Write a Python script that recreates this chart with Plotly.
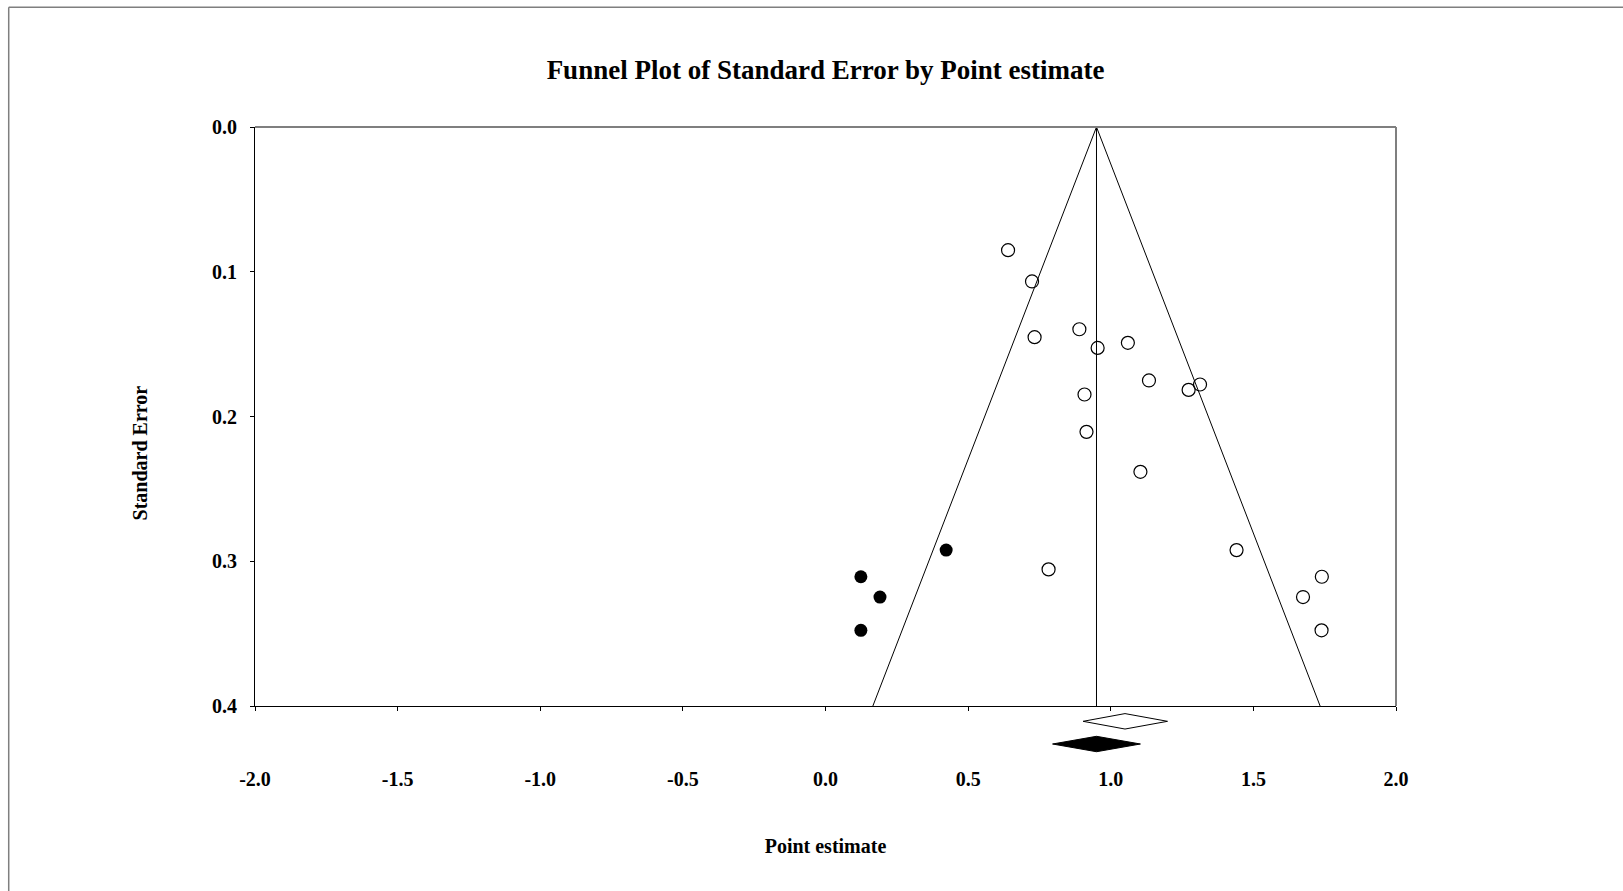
import plotly.graph_objects as go

# ---------------- data ----------------
effect_observed = [0.640, 0.724, 0.733, 0.890, 0.954, 1.060, 1.134, 1.273, 1.313,
                   0.908, 0.915, 1.104, 1.441, 0.782, 1.674, 1.740, 1.739]
se_observed = [0.0851, 0.1067, 0.1452, 0.1397, 0.1526, 0.1491, 0.1751, 0.1816, 0.1779,
               0.1848, 0.2106, 0.2382, 0.2923, 0.3056, 0.3247, 0.3107, 0.3477]
effect_imputed = [0.423, 0.124, 0.191, 0.124]
se_imputed = [0.2923, 0.3107, 0.3247, 0.3477]

observed_summary = [0.903, 1.050, 1.199]   # lower, point, upper
adjusted_summary = [0.796, 0.950, 1.104]   # lower, point, upper
summary_rows = [1, 2]                       # row of each diamond under the axis
diamond_half = 0.34

funnel_center = 0.950
se_max = 0.4
z_crit = 1.96

x_ticks = [-2.0, -1.5, -1.0, -0.5, 0.0, 0.5, 1.0, 1.5, 2.0]
y_ticks = [0.0, 0.1, 0.2, 0.3, 0.4]

# ---------------- layout geometry (pixels) ----------------
W, H = 1623, 891
left, right = 254.5, 1396.5
top, main_bottom, lower_bottom = 126.7, 706.0, 765.0
plot_h = lower_bottom - top
split = (lower_bottom - main_bottom) / plot_h
title_center = 453.0
y4_top = 2 * (lower_bottom - title_center) / plot_h

FONT = "Liberation Serif"

fig = go.Figure()

# carrier for the left axis title (added first so it sits underneath)
fig.add_trace(go.Scatter(x=[None], y=[None], mode="markers", showlegend=False,
                         hoverinfo="skip", xaxis="x", yaxis="y4"))

# funnel lines
fig.add_trace(go.Scatter(
    x=[funnel_center - z_crit * se_max, funnel_center, funnel_center + z_crit * se_max],
    y=[se_max, 0, se_max], mode="lines",
    line=dict(color="black", width=1), showlegend=False, hoverinfo="skip",
    xaxis="x", yaxis="y"))
fig.add_trace(go.Scatter(
    x=[funnel_center, funnel_center], y=[0, se_max], mode="lines",
    line=dict(color="black", width=1), showlegend=False, hoverinfo="skip",
    xaxis="x", yaxis="y"))

# observed studies
fig.add_trace(go.Scatter(
    x=effect_observed, y=se_observed, mode="markers",
    marker=dict(symbol="circle-open", size=13, color="black", line=dict(width=1.2)),
    showlegend=False, xaxis="x", yaxis="y"))
# imputed studies
fig.add_trace(go.Scatter(
    x=effect_imputed, y=se_imputed, mode="markers",
    marker=dict(symbol="circle", size=13, color="black", line=dict(width=0)),
    showlegend=False, xaxis="x", yaxis="y"))

# summary diamonds
for summ, row, fill in [(observed_summary, summary_rows[0], "white"),
                        (adjusted_summary, summary_rows[1], "black")]:
    lo, c, hi = summ
    fig.add_trace(go.Scatter(
        x=[lo, c, hi, c, lo],
        y=[row, row - diamond_half, row, row + diamond_half, row],
        mode="lines", fill="toself", fillcolor=fill,
        line=dict(color="black", width=1), showlegend=False, hoverinfo="skip",
        xaxis="x2", yaxis="y2"))

tickfont = dict(family=FONT, size=20, color="black", weight="bold")

fig.update_layout(
    width=W, height=H,
    margin=dict(l=left, r=W - right, t=top, b=H - lower_bottom, pad=0),
    paper_bgcolor="white", plot_bgcolor="rgba(0,0,0,0)",
    title=dict(text="Funnel Plot of Standard Error by Point estimate",
               font=dict(family=FONT, size=27, color="black", weight="bold"),
               x=0.5, xref="paper", xanchor="center",
               y=1 - 70 / H, yref="container", yanchor="middle"),
    xaxis=dict(domain=[0, 1], anchor="y", range=[-2, 2], tickvals=x_ticks,
               showticklabels=False, ticks="outside", ticklen=4, tickwidth=1,
               tickcolor="black", showline=True, linecolor="black", linewidth=1,
               showgrid=False, zeroline=False),
    yaxis=dict(domain=[split, 1], anchor="x", range=[se_max, 0], tickvals=y_ticks,
               ticktext=[f"{v:.1f}" for v in y_ticks], tickfont=tickfont,
               ticks="outside", ticklen=4, tickwidth=1, tickcolor="black",
               ticklabelstandoff=9,
               showline=True, linecolor="black", linewidth=1,
               showgrid=False, zeroline=False),
    xaxis2=dict(domain=[0, 1], anchor="y2", range=[-2, 2], matches="x",
                tickvals=x_ticks, ticktext=[f"{v:.1f}" for v in x_ticks],
                tickfont=tickfont, ticks="", showline=False, showgrid=False,
                zeroline=False,
                title=dict(text="Point estimate",
                           font=dict(family=FONT, size=20, color="black", weight="bold"),
                           standoff=49)),
    yaxis2=dict(domain=[0, split], anchor="x2", range=[2.925, 0.326],
                showticklabels=False, ticks="", showline=False, showgrid=False,
                zeroline=False),
    yaxis4=dict(domain=[0, min(y4_top, 1)], anchor="free", position=0,
                showticklabels=False, ticks="", showline=False, showgrid=False,
                zeroline=False, range=[0, 1],
                title=dict(text="Standard Error",
                           font=dict(family=FONT, size=20, color="black", weight="bold"),
                           standoff=100)),
    shapes=[
        # grey top and right frame of the plot
        dict(type="line", xref="x domain", yref="y domain", x0=0, x1=1, y0=1, y1=1,
             line=dict(color="#7f7f7f", width=2)),
        dict(type="line", xref="x domain", yref="y domain", x0=1, x1=1, y0=0, y1=1,
             line=dict(color="#7f7f7f", width=2)),
        # outer image border (top and left)
        dict(type="line", xref="paper", yref="paper",
             x0=(8 - left) / (right - left), x1=(W + 10 - left) / (right - left),
             y0=(lower_bottom - 7) / plot_h, y1=(lower_bottom - 7) / plot_h,
             line=dict(color="#7f7f7f", width=1.5)),
        dict(type="line", xref="paper", yref="paper",
             x0=(8 - left) / (right - left), x1=(8 - left) / (right - left),
             y0=(lower_bottom - 7) / plot_h, y1=(lower_bottom - H - 10) / plot_h,
             line=dict(color="#7f7f7f", width=1.5)),
    ],
)

fig.write_html("out.html", config={"displayModeBar": False},
               post_script="document.body.style.margin='0';document.body.style.overflow='hidden';")
